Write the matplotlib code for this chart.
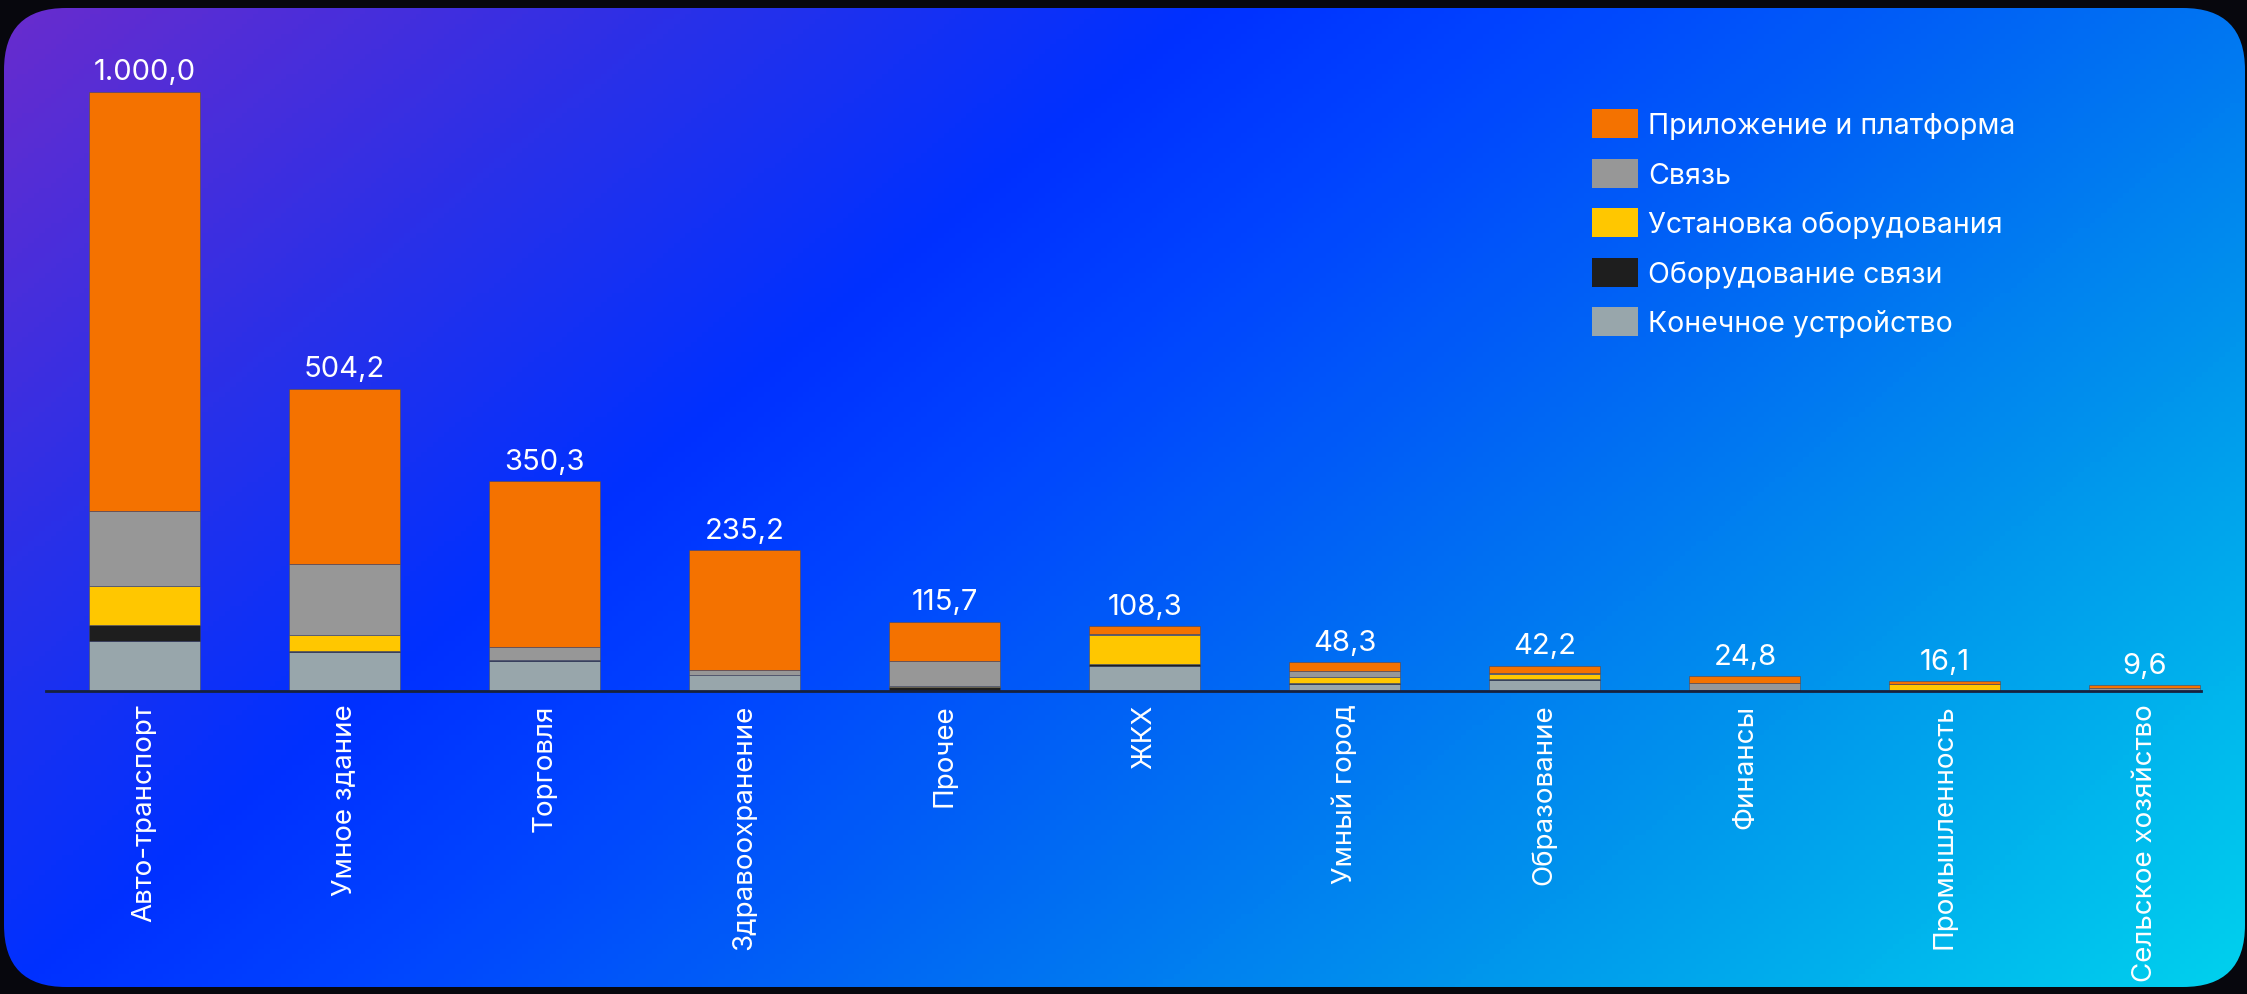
import numpy as np
import matplotlib
matplotlib.use("Agg")
import matplotlib.pyplot as plt
from matplotlib.colors import LinearSegmentedColormap
from matplotlib.patches import FancyBboxPatch

plt.rcParams['font.family'] = ['Inter', 'DejaVu Sans']

categories = ["Авто-транспорт", "Умное здание", "Торговля", "Здравоохранение", "Прочее",
              "ЖКХ", "Умный город", "Образование", "Финансы", "Промышленность",
              "Сельское хозяйство"]
totals = [1000.0, 504.2, 350.3, 235.2, 115.7, 108.3, 48.3, 42.2, 24.8, 16.1, 9.6]

series_names = ["Конечное устройство", "Оборудование связи", "Установка оборудования",
                "Связь", "Приложение и платформа"]
end_device = [83, 65, 50, 26, 0, 41, 12.2, 19, 0.5, 0, 0]
comm_equipment = [27, 2, 1, 1.5, 7, 4.5, 1, 1.2, 0.5, 0.5, 0]
installation = [66, 27, 0.5, 0, 2, 48.4, 11, 7.8, 1, 11, 0.6]
connectivity = [124, 118, 21.5, 8, 41, 2, 10, 2.2, 10.8, 0.6, 5]
platform = [700, 292.2, 277.3, 199.7, 65.7, 12.4, 14.1, 12, 12, 4, 4]

series = [end_device, comm_equipment, installation, connectivity, platform]
colors = ["#98A6AB", "#1E1E1E", "#FFC700", "#979797", "#F47200"]

W, H = 2247, 995
fig = plt.figure(figsize=(W / 100, H / 100), dpi=100, facecolor="#07070d")

# background gradient with rounded corners
bg = fig.add_axes([0, 0, 1, 1])
bg.set_xlim(0, W)
bg.set_ylim(H, 0)
bg.axis("off")
cmap = LinearSegmentedColormap.from_list("bg", [
    (0.0, "#6a2ccd"), (0.2, "#2a30e8"), (0.35, "#0030ff"), (0.45, "#0044ff"),
    (0.6, "#0068f4"), (0.78, "#0098ec"), (1.0, "#00d2ee")])
xx, yy = np.meshgrid(np.linspace(0, 1, 400), np.linspace(0, 1, 200))
t = 0.65 * xx + 0.35 * yy
im = bg.imshow(t, cmap=cmap, extent=[0, W, H, 0], aspect="auto", vmin=0, vmax=1)
clip = FancyBboxPatch((4, 9), W - 6, H - 16, boxstyle="round,pad=0,rounding_size=62",
                      transform=bg.transData, facecolor="none", edgecolor="none")
bg.add_patch(clip)
im.set_clip_path(clip)

ax = fig.add_axes([46 / W, 1 - 692 / H, (2201 - 46) / W, 599 / H])
ax.patch.set_alpha(0)
x = np.arange(len(categories))
bottom = np.zeros(len(categories))
for name, vals, c in zip(series_names, series, colors):
    vals = np.array(vals, dtype=float)
    ax.bar(x, vals, width=0.555, bottom=bottom, color=c, label=name,
           edgecolor=(0.25, 0.27, 0.38, 0.55), linewidth=0.7)
    bottom += vals

def fmt(v):
    s = f"{v:,.1f}"
    return s.replace(",", " ").replace(".", ",").replace(" ", ".")

for xi, tot in zip(x, totals):
    ax.annotate(fmt(tot), (xi, tot), xytext=(0, 9), textcoords="offset points",
                ha="center", va="baseline", color="white", fontsize=21)

ax.set_xlim(-0.4925, 10.28)
ax.set_ylim(0, 1000)
ax.set_xticks(x)
ax.set_xticklabels(categories, rotation=90, color="white", fontsize=20)
ax.tick_params(axis="x", length=0, pad=9)
ax.set_yticks([])
for s in ["top", "right", "left"]:
    ax.spines[s].set_visible(False)
ax.spines["bottom"].set_color("#16213f")
ax.spines["bottom"].set_linewidth(2)

handles, labels = ax.get_legend_handles_labels()
leg = fig.legend(handles[::-1], labels[::-1], loc="upper left",
                 bbox_to_anchor=(1592 / W, 1 - 110 / H), bbox_transform=fig.transFigure,
                 frameon=False, fontsize=20.5, handlelength=1.62, handleheight=1.2,
                 handletextpad=0.36, labelspacing=0.68, borderpad=0, borderaxespad=0)
for txt in leg.get_texts():
    txt.set_color("white")
for h in leg.legend_handles:
    h.set_edgecolor("none")

fig.savefig("out.png", dpi=100, facecolor=fig.get_facecolor())
